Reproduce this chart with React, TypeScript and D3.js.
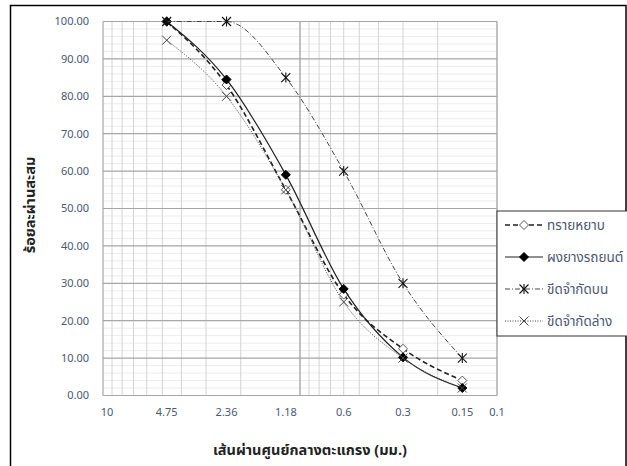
import React from 'react';
import * as d3 from 'd3';

// sieve sizes (mm) and percent passing
const sieves = [4.75, 2.36, 1.18, 0.6, 0.3, 0.15];
const xTickLabels = ['10', '4.75', '2.36', '1.18', '0.6', '0.3', '0.15', '0.1'];
const xTickValues = [10, 4.75, 2.36, 1.18, 0.6, 0.3, 0.15, 0.1];
const yTicks = [0, 10, 20, 30, 40, 50, 60, 70, 80, 90, 100];

const coarseSand = [100, 83, 55, 27, 12.5, 4];
const rubberPowder = [100, 84.5, 59, 28.5, 10.2, 2];
const upperLimit = [100, 100, 85, 60, 30, 10];
const lowerLimit = [95, 80, 55, 25, 10, 2];

const seriesNames = ['ทรายหยาบ', 'ผงยางรถยนต์', 'ขีดจำกัดบน', 'ขีดจำกัดล่าง'];

const W = 627, H = 466;
const plot = { left: 103, right: 497, top: 21.5, bottom: 395.5 };
const FONT = "'Noto Sans Thai', Tahoma, 'DejaVu Sans', 'Noto Sans', sans-serif";

const x = d3.scaleLog().domain([10, 0.1]).range([plot.left, plot.right]);
const y = d3.scaleLinear().domain([0, 100]).range([plot.bottom, plot.top]);

const line = d3.line<[number, number]>()
  .x(d => x(d[0]))
  .y(d => y(d[1]))
  .curve(d3.curveMonotoneX);

const series = [
  { name: seriesNames[0], values: coarseSand, dash: '5,3', width: 1.6, stroke: '#222', marker: 'openDiamond' },
  { name: seriesNames[1], values: rubberPowder, dash: null, width: 1.2, stroke: '#222', marker: 'diamond' },
  { name: seriesNames[2], values: upperLimit, dash: '5,2,1,2', width: 1, stroke: '#444', marker: 'star' },
  { name: seriesNames[3], values: lowerLimit, dash: '1,1.5', width: 1, stroke: '#444', marker: 'cross' },
];

function Marker({ type, cx, cy }: { type: string; cx: number; cy: number }) {
  const s = 4.5;
  if (type === 'diamond') {
    return <path d={`M${cx},${cy - s}L${cx + s},${cy}L${cx},${cy + s}L${cx - s},${cy}Z`} fill="#000" stroke="#000" />;
  }
  if (type === 'openDiamond') {
    return <path d={`M${cx},${cy - s}L${cx + s},${cy}L${cx},${cy + s}L${cx - s},${cy}Z`} fill="#fff" stroke="#555" strokeWidth={1} />;
  }
  if (type === 'star') {
    return (
      <g stroke="#111" strokeWidth={1.1}>
        <line x1={cx - s} y1={cy - s} x2={cx + s} y2={cy + s} />
        <line x1={cx - s} y1={cy + s} x2={cx + s} y2={cy - s} />
        <line x1={cx} y1={cy - s - 0.5} x2={cx} y2={cy + s + 0.5} />
      </g>
    );
  }
  return (
    <g stroke="#444" strokeWidth={1}>
      <line x1={cx - s} y1={cy - s} x2={cx + s} y2={cy + s} />
      <line x1={cx - s} y1={cy + s} x2={cx + s} y2={cy - s} />
    </g>
  );
}

export default function App() {
  const minorX: number[] = [];
  [10, 1].forEach(dec => {
    for (let k = 1; k <= 9; k++) minorX.push((dec / 10) * k);
  });
  const minorY = d3.range(0, 101, 2).filter(v => v % 10 !== 0);

  const legendY = [225, 257, 289, 321];

  return (
    <svg width={W} height={H} style={{ position: 'absolute', left: 0, top: 0, background: '#fff' }} fontFamily={FONT}>
      <rect x={0} y={0} width={W} height={H} fill="#fff" />
      <rect x={10.5} y={5.5} width={615.5} height={480} fill="none" stroke="#000" strokeWidth={1.5} />

      {/* minor horizontal grid */}
      {minorY.map(v => (
        <line key={'my' + v} x1={plot.left} x2={plot.right} y1={y(v)} y2={y(v)} stroke="#ececec" strokeWidth={1} />
      ))}
      {/* minor vertical grid */}
      {minorX.map(v => (
        <line key={'mx' + v} x1={x(v)} x2={x(v)} y1={plot.top} y2={plot.bottom} stroke="#d4d4d4" strokeWidth={1} />
      ))}
      {/* major vertical grid */}
      {[10, 1, 0.1].map(v => (
        <line key={'Mx' + v} x1={x(v)} x2={x(v)} y1={plot.top} y2={plot.bottom} stroke="#a6a6a6" strokeWidth={1.2} />
      ))}
      {/* major horizontal grid */}
      {yTicks.map(v => (
        <line key={'My' + v} x1={plot.left} x2={plot.right} y1={y(v)} y2={y(v)} stroke="#a6a6a6" strokeWidth={1.2} />
      ))}

      {/* y tick labels */}
      {yTicks.map(v => (
        <text key={'yt' + v} x={89} y={y(v)} dy="0.35em" textAnchor="end" fontSize={11} fill="#4d5870">
          {d3.format('.2f')(v)}
        </text>
      ))}
      {/* x tick labels */}
      {xTickValues.map((v, i) => (
        <text key={'xt' + i} x={x(v) + (i === 0 ? 4 : 0)} y={416} textAnchor="middle" fontSize={11} fill="#4d5870">
          {xTickLabels[i]}
        </text>
      ))}

      {/* axis titles */}
      <text x={310} y={455} textAnchor="middle" fontSize={14.5} fontWeight="bold" fill="#222">
        เส้นผ่านศูนย์กลางตะแกรง (มม.)
      </text>
      <text transform="translate(35,205) rotate(-90)" textAnchor="middle" fontSize={14.5} fontWeight="bold" fill="#222">
        ร้อยละผ่านสะสม
      </text>

      {/* series */}
      {series.map(s => {
        const pts = sieves.map((sv, i) => [sv, s.values[i]] as [number, number]);
        return (
          <g key={s.name}>
            <path d={line(pts) || ''} fill="none" stroke={s.stroke} strokeWidth={s.width} strokeDasharray={s.dash || undefined} />
            {pts.map((p, i) => (
              <Marker key={i} type={s.marker} cx={x(p[0])} cy={y(p[1])} />
            ))}
          </g>
        );
      })}

      {/* legend */}
      <rect x={497} y={211} width={140} height={125} fill="#fff" stroke="#333" strokeWidth={1} />
      {series.map((s, i) => (
        <g key={'lg' + i}>
          <line x1={505} x2={543} y1={legendY[i]} y2={legendY[i]} stroke={s.stroke} strokeWidth={s.width} strokeDasharray={s.dash || undefined} />
          <Marker type={s.marker} cx={524} cy={legendY[i]} />
          <text x={547} y={legendY[i]} dy="0.35em" fontSize={13.5} fill="#4d5870">{s.name}</text>
        </g>
      ))}
    </svg>
  );
}
